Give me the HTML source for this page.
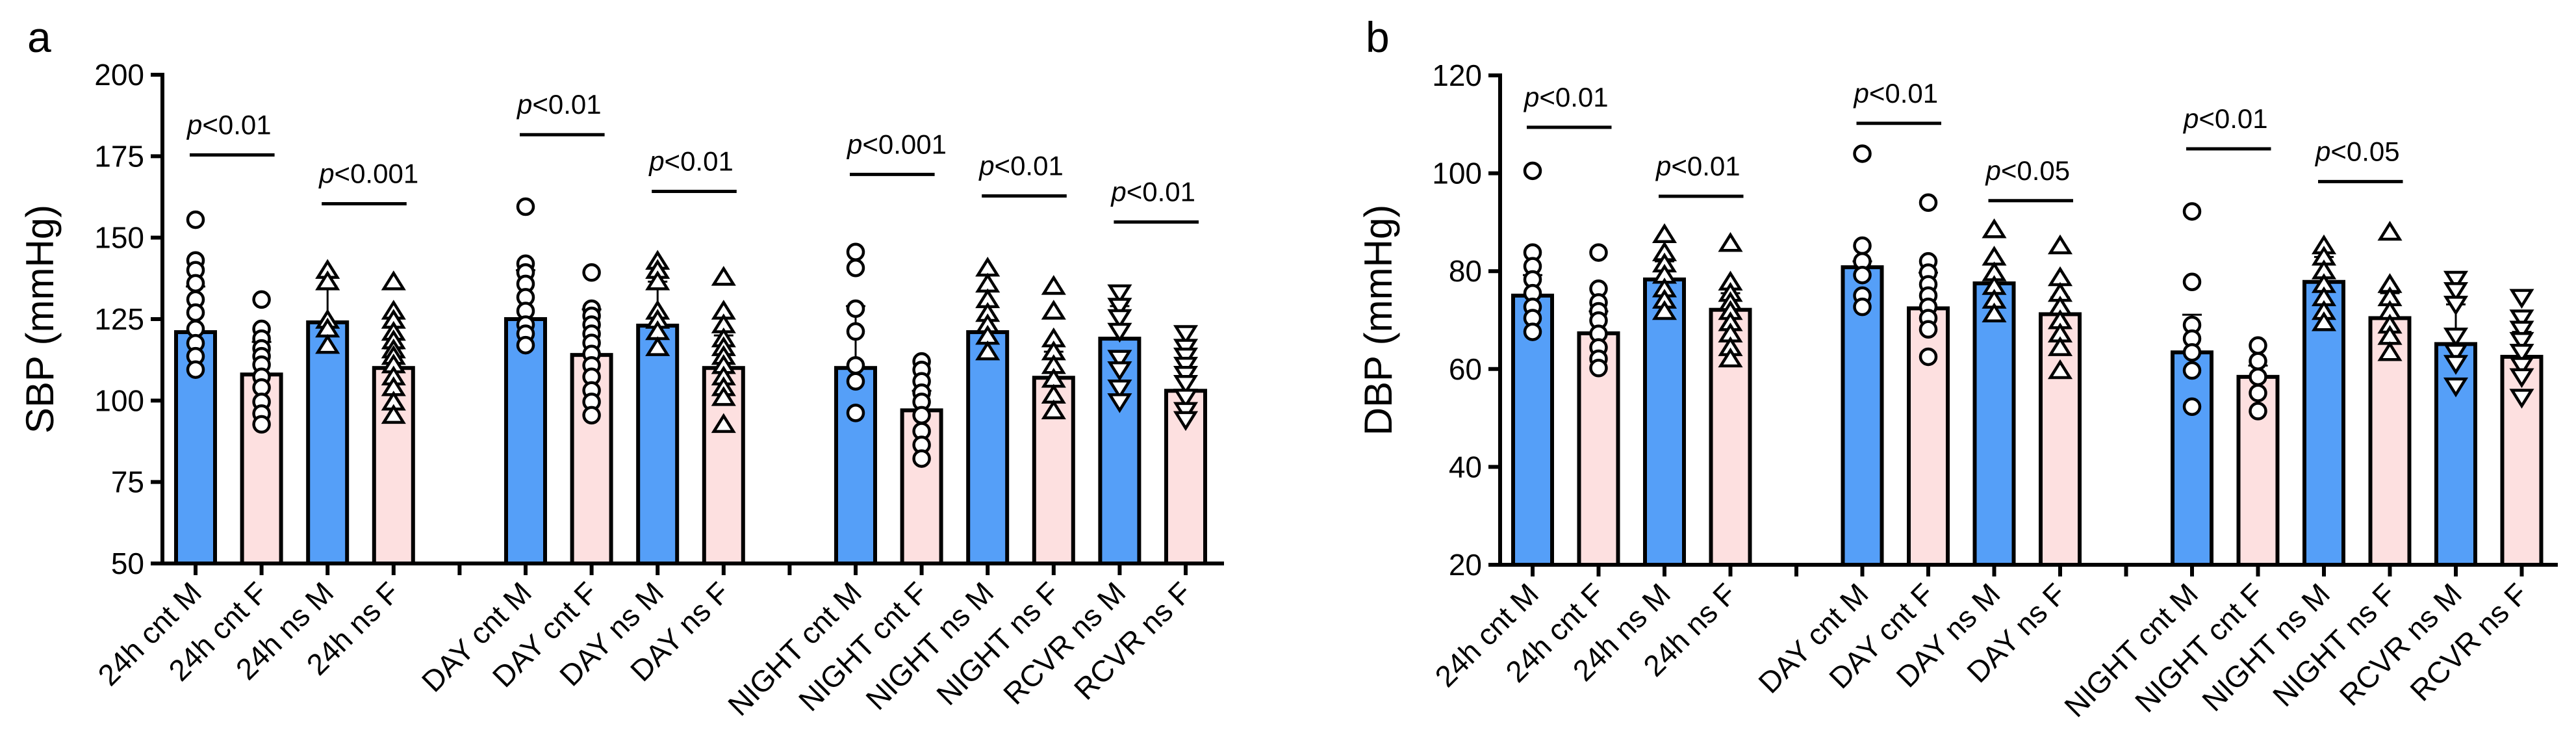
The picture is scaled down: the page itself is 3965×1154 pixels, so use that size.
<!DOCTYPE html>
<html><head><meta charset="utf-8">
<style>
html,body{margin:0;padding:0;background:#fff;}
svg{display:block;font-family:"Liberation Sans",Arial,sans-serif;}
</style></head>
<body>
<svg id="fig" width="3965" height="1154" viewBox="0 0 3965 1154" xmlns="http://www.w3.org/2000/svg">
  <text x="42" y="80" font-size="66">a</text>
  <text x="2102" y="80" font-size="66">b</text>
</svg>
<script>
// ---------- shared categories ----------
const categories = ["24h cnt M","24h cnt F","24h ns M","24h ns F",null,"DAY cnt M","DAY cnt F","DAY ns M","DAY ns F",null,"NIGHT cnt M","NIGHT cnt F","NIGHT ns M","NIGHT ns F","RCVR ns M","RCVR ns F"];
const sexes = ["M","F","M","F",null,"M","F","M","F",null,"M","F","M","F","M","F"];
const markerTypes = ["circle","circle","up","up",null,"circle","circle","up","up",null,"circle","circle","up","up","down","down"];

// ---------- panel a (SBP) ----------
const sbpTicks = [50,75,100,125,150,175,200];
const sbpMeans = [121,108,124,110,null,125,114,123,110,null,110,97,121,107,119,103];
const sbpSdTop = [135,118,135,116,null,140,128,136.5,120,null,129,103,134,115,129,110];
const sbpPoints = [
 [155.5,143,140,136,131,127,122,117.6,113.6,109.5],
 [131,122,119,116,113.6,111,107.3,104,99.6,96,92.7],
 [140,136.5,124.7,122,117],
 [136.5,127.5,124.7,121,118.4,115.6,113.6,111,107.3,104,99.6,95.5],
 null,
 [159.5,142,139.3,135.8,131.7,127.5,123.3,120.5,117],
 [139.3,128.2,126,123.3,120.5,117.7,114.3,110.8,107.3,103.1,99.6,95.5],
 [142.8,140,136.5,127.5,124.7,121.2,116.3],
 [137.9,127.5,123.3,119,116.3,113.6,110.8,107.3,104,101,92.7],
 null,
 [145.6,140.7,128.2,121.2,110.8,105.9,96.2],
 [112,109.4,105.9,102.4,99.6,95.5,90.6,86.4,82.2],
 [140.7,135.8,131,126.8,123.3,119.8,115],
 [135.1,127.5,119,115,110.8,106.6,101.7,96.9],
 [133,128.9,125.4,121.2,112.9,109.4,103.8,99.6],
 [120.5,116.3,113.6,110.8,108,105.2,101,96.9,94.1]
];
const sbpSigFrom = [0,2,5,7,10,12,14];
const sbpSigText = ["p<0.01","p<0.001","p<0.01","p<0.01","p<0.001","p<0.01","p<0.01"];
const sbpSigLevel = [175.4,160.4,181.6,164.2,169.4,162.8,154.8];

// ---------- panel b (DBP) ----------
const dbpTicks = [20,40,60,80,100,120];
const dbpMeans = [75,67.3,78.3,72.1,null,80.8,72.4,77.5,71.2,null,63.4,58.4,77.8,70.4,65.1,62.5];
const dbpSdTop = [79.2,71.8,82,75.5,null,82,79.7,74.1,74.6,null,71.1,60.7,82.9,75.5,73.2,67.6];
const dbpPoints = [
 [100.5,83.8,81,78.3,75.5,72.7,70.4,67.6],
 [83.8,76.4,73.6,71.8,69.9,67.2,64.4,62.1,60.2],
 [87.5,83.8,81.5,79.2,76.4,74.1,71.8],
 [85.7,77.8,75.5,73.6,71.8,69.5,67.2,64.4,62.1],
 null,
 [104,85.2,82,79.2,75,72.7],
 [94,82,79.7,77.3,75,72.7,70.4,68.1,62.5],
 [88.5,82.9,79.7,76.9,74.1,71.3],
 [85.2,78.7,75.5,72.7,69.9,67.2,64.4,59.7],
 null,
 [92.2,77.8,69,66.2,63.4,59.7,52.3],
 [64.8,61.6,58.4,55.1,51.4],
 [85.2,82.9,80.1,77.3,74.6,71.8,69.5],
 [88,77.3,74.6,71.8,69,66.7,63.4],
 [78.3,76,73.2,66.7,63.4,61.1,56.5],
 [74.6,70.4,68.1,65.8,63.4,60.7,58.4,54.2]
];
const dbpSigFrom = [0,2,5,7,10,12];
const dbpSigText = ["p<0.01","p<0.01","p<0.01","p<0.05","p<0.01","p<0.05"];
const dbpSigLevel = [109.4,95.3,110.2,94.4,105,98.3];

const NS = "http://www.w3.org/2000/svg";
const svg = document.getElementById("fig");
function mk(tag, attrs, parent){
  const e = document.createElementNS(NS, tag);
  for (const k in attrs) e.setAttribute(k, attrs[k]);
  (parent||svg).appendChild(e);
  return e;
}

function drawPanel(cfg){
  const g = mk("g", {});
  
  
  const yMin = cfg.ticks[0], yMax = cfg.ticks[cfg.ticks.length-1];
  const yScale = v => cfg.yBottom - (v - yMin) / (yMax - yMin) * (cfg.yBottom - cfg.yTop);
  const xScale = i => cfg.x0 + i * cfg.step;
  const bw = 60;

  // bars
  categories.forEach((c, i) => {
    if (c === null) return;
    const m = cfg.means[i];
    const x = xScale(i);
    // error bar
    const eb = mk("g", {}, g);
    
    
    mk("line", {x1:x, x2:x, y1:yScale(m), y2:yScale(cfg.sd[i]), stroke:"#000","stroke-width":3}, eb);
    mk("line", {x1:x-15, x2:x+15, y1:yScale(cfg.sd[i]), y2:yScale(cfg.sd[i]), stroke:"#000","stroke-width":3}, eb);
    const r = mk("rect", {x:x-bw/2, y:yScale(m), width:bw, height:cfg.yBottom - yScale(m),
      fill: sexes[i]==="M" ? "#559ff8" : "#fde0e0", stroke:"#000", "stroke-width":6}, g);
    
    
  });
  // points
  categories.forEach((c, i) => {
    if (c === null) return;
    const x = xScale(i);
    const pg = mk("g", {fill:"#fff", stroke:"#000", "stroke-width":4.5}, g);
    
    
    cfg.points[i].forEach(v => {
      const y = yScale(v);
      let p;
      if (markerTypes[i] === "circle") {
        p = mk("circle", {cx:x, cy:y, r:12}, pg);
      } else if (markerTypes[i] === "up") {
        p = mk("polygon", {points:`${x},${y-13} ${x+15},${y+11} ${x-15},${y+11}`}, pg);
      } else {
        p = mk("polygon", {points:`${x},${y+13} ${x+15},${y-11} ${x-15},${y-11}`}, pg);
      }
      
      
    });
  });
  // axes
  const ax = mk("g", {stroke:"#000", "stroke-width":6, fill:"none"}, g);
  
  
  mk("line", {x1:cfg.axisX, x2:cfg.axisX, y1:cfg.yTop-3, y2:cfg.yBottom+3}, ax);
  mk("line", {x1:cfg.axisX-3, x2:cfg.axisEnd, y1:cfg.yBottom, y2:cfg.yBottom}, ax);
  cfg.ticks.forEach(t => {
    mk("line", {x1:cfg.axisX-18, x2:cfg.axisX, y1:yScale(t), y2:yScale(t)}, ax);
    const tl = mk("text", {x:cfg.axisX-28, y:yScale(t)+16, "font-size":46, "text-anchor":"end", fill:"#000", stroke:"none"}, g);
    tl.textContent = t;
    
    
  });
  categories.forEach((c, i) => {
    const x = xScale(i);
    mk("line", {x1:x, x2:x, y1:cfg.yBottom, y2:cfg.yBottom+18}, ax);
    if (c === null) return;
    const lx = x + 12, ly = cfg.yBottom + 48;
    const t = mk("text", {x:lx, y:ly, "font-size":46, "text-anchor":"end", transform:`rotate(-45 ${lx} ${ly})`}, g);
    t.textContent = c;
    
    
  });
  // y title
  const ty = mk("text", {x:cfg.titleX, y:(cfg.yTop+cfg.yBottom)/2, "font-size":60, "text-anchor":"middle",
    transform:`rotate(-90 ${cfg.titleX} ${(cfg.yTop+cfg.yBottom)/2})`}, g);
  ty.textContent = cfg.title;
  
  
  // significance
  cfg.sigFrom.forEach((s, k) => {
    const sg = mk("g", {}, g);
    
    
    const y = yScale(cfg.sigLevel[k]);
    const x1 = xScale(s) - 9, x2 = xScale(s+1) + 20;
    mk("line", {x1:x1, x2:x2, y1:y, y2:y, stroke:"#000", "stroke-width":5}, sg);
    const t = mk("text", {x:x1-4, y:y-32, "font-size":42}, sg);
    const it = mk("tspan", {"font-style":"italic"}, t);
    it.textContent = "p";
    const rest = mk("tspan", {}, t);
    rest.textContent = cfg.sigText[k].slice(1);
  });
}

drawPanel({name:"panel-a-sbp-chart", ticks:sbpTicks, means:sbpMeans, sd:sbpSdTop, points:sbpPoints,
  sigFrom:sbpSigFrom, sigText:sbpSigText, sigLevel:sbpSigLevel,
  yTop:115, yBottom:867, x0:301, step:101.6, axisX:250, axisEnd:1884, titleX:82, title:"SBP (mmHg)"});
drawPanel({name:"panel-b-dbp-chart", ticks:dbpTicks, means:dbpMeans, sd:dbpSdTop, points:dbpPoints,
  sigFrom:dbpSigFrom, sigText:dbpSigText, sigLevel:dbpSigLevel,
  yTop:116, yBottom:869, x0:2359, step:101.5, axisX:2309, axisEnd:3937, titleX:2142, title:"DBP (mmHg)"});
</script>
</body></html>
